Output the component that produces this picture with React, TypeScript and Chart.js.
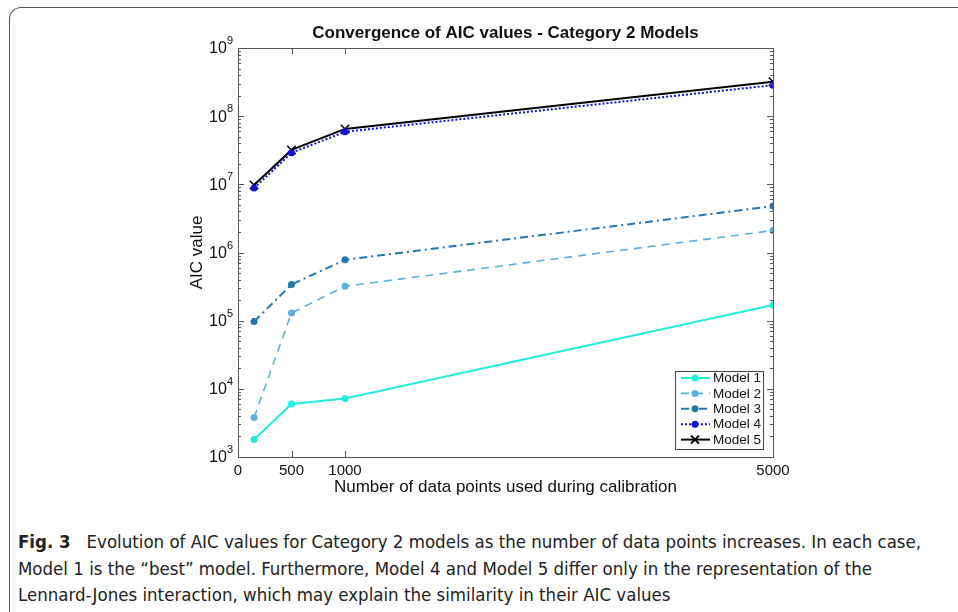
import React, { useEffect, useRef } from "react";
import { Chart, registerables } from "chart.js";

Chart.register(...registerables);

const chartTitle = "Convergence of AIC values - Category 2 Models";
const xTitle = "Number of data points used during calibration";
const yTitle = "AIC value";
const xValues = [150, 500, 1000, 5000];
const xTicks = [0, 500, 1000, 5000];
const yExponents = [3, 4, 5, 6, 7, 8, 9];
const seriesNames = ["Model 1", "Model 2", "Model 3", "Model 4", "Model 5"];
const model1 = [1.8e3, 6.0e3, 7.2e3, 1.7e5];
const model2 = [3.8e3, 1.3e5, 3.2e5, 2.1e6];
const model3 = [9.7e4, 3.4e5, 7.8e5, 4.8e6];
const model4 = [8.8e6, 2.9e7, 5.9e7, 2.85e8];
const model5 = [9.8e6, 3.2e7, 6.5e7, 3.2e8];

const styles = [
  { color: "#22eedd", dash: [] as number[], width: 2, point: "circle", radius: 3.5 },
  { color: "#5ab2dc", dash: [8, 6], width: 1.6, point: "circle", radius: 3.5 },
  { color: "#2278b2", dash: [8, 4, 2, 4], width: 2, point: "circle", radius: 3.5 },
  { color: "#1010e0", dash: [2, 2], width: 2, point: "circle", radius: 3.5 },
  { color: "#000000", dash: [] as number[], width: 2, point: "crossRot", radius: 6 },
];
const seriesData = [model1, model2, model3, model4, model5];

const W = 958;
const H = 510;
const AREA = { left: 238, right: 773, top: 48, bottom: 457 };
const FONT = "'Liberation Sans', Arial, sans-serif";

const axisPlugin = {
  id: "matlabAxes",
  afterDatasetsDraw(chart: any) {
    const ctx = chart.ctx as CanvasRenderingContext2D;
    const a = chart.chartArea;
    const ys = chart.scales.y;
    const xs = chart.scales.x;
    ctx.save();
    ctx.strokeStyle = "#555";
    ctx.lineWidth = 1;
    ctx.strokeRect(Math.round(a.left) + 0.5, Math.round(a.top) + 0.5, Math.round(a.right - a.left), Math.round(a.bottom - a.top));
    ctx.beginPath();
    for (const e of yExponents) {
      const y = Math.round(ys.getPixelForValue(Math.pow(10, e))) + 0.5;
      ctx.moveTo(a.left, y); ctx.lineTo(a.left + 6, y);
      ctx.moveTo(a.right, y); ctx.lineTo(a.right - 6, y);
      if (e < 9) {
        for (let m = 2; m <= 9; m++) {
          const ym = Math.round(ys.getPixelForValue(m * Math.pow(10, e))) + 0.5;
          ctx.moveTo(a.left, ym); ctx.lineTo(a.left + 3, ym);
          ctx.moveTo(a.right, ym); ctx.lineTo(a.right - 3, ym);
        }
      }
    }
    for (const t of xTicks) {
      const x = Math.round(xs.getPixelForValue(t)) + 0.5;
      ctx.moveTo(x, a.bottom); ctx.lineTo(x, a.bottom - 6);
      ctx.moveTo(x, a.top); ctx.lineTo(x, a.top + 6);
    }
    ctx.stroke();

    // title
    ctx.fillStyle = "#111";
    ctx.font = `bold 17px ${FONT}`;
    ctx.textAlign = "center";
    ctx.textBaseline = "middle";
    ctx.fillText(chartTitle, (a.left + a.right) / 2, 33);

    // y tick labels 10^e
    for (const e of yExponents) {
      const y = ys.getPixelForValue(Math.pow(10, e));
      ctx.font = `11px ${FONT}`;
      const ew = ctx.measureText(String(e)).width;
      const xr = a.left - 5;
      ctx.textAlign = "left";
      ctx.fillText(String(e), xr - ew, y - 7);
      ctx.font = `16px ${FONT}`;
      ctx.textAlign = "right";
      ctx.fillText("10", xr - ew, y + 1);
    }

    // legend
    const lx = 675, ly = 371, lw = 88, lh = 78;
    ctx.fillStyle = "#fff";
    ctx.fillRect(lx, ly, lw, lh);
    ctx.strokeStyle = "#444";
    ctx.lineWidth = 1;
    ctx.strokeRect(lx + 0.5, ly + 0.5, lw, lh);
    ctx.font = `13.5px ${FONT}`;
    ctx.textAlign = "left";
    ctx.textBaseline = "middle";
    seriesNames.forEach((name, i) => {
      const s = styles[i];
      const yy = ly + 7 + i * 15.4;
      ctx.save();
      ctx.strokeStyle = s.color;
      ctx.lineWidth = s.width;
      ctx.setLineDash(s.dash);
      ctx.beginPath();
      ctx.moveTo(lx + 6, yy);
      ctx.lineTo(lx + 35, yy);
      ctx.stroke();
      ctx.setLineDash([]);
      if (s.point === "circle") {
        ctx.fillStyle = s.color;
        ctx.beginPath();
        ctx.arc(lx + 20, yy, 3.5, 0, Math.PI * 2);
        ctx.fill();
      } else {
        ctx.beginPath();
        ctx.moveTo(lx + 16, yy - 4); ctx.lineTo(lx + 24, yy + 4);
        ctx.moveTo(lx + 16, yy + 4); ctx.lineTo(lx + 24, yy - 4);
        ctx.stroke();
      }
      ctx.restore();
      ctx.fillStyle = "#111";
      ctx.fillText(name, lx + 38, yy + 0.5);
    });
    ctx.restore();
  },
};

export default function App() {
  const ref = useRef<HTMLCanvasElement | null>(null);
  useEffect(() => {
    if (!ref.current) return;
    const chart = new Chart(ref.current, {
      type: "line",
      data: {
        datasets: seriesNames.map((name, i) => ({
          label: name,
          data: xValues.map((x, j) => ({ x, y: seriesData[i][j] })),
          borderColor: styles[i].color,
          backgroundColor: styles[i].color,
          borderWidth: styles[i].width,
          borderDash: styles[i].dash,
          pointStyle: styles[i].point as any,
          pointRadius: styles[i].radius,
          pointBorderWidth: styles[i].point === "crossRot" ? 1.5 : 0,
          pointBorderColor: styles[i].color,
          fill: false,
          tension: 0,
        })),
      },
      options: {
        animation: false,
        responsive: false,
        maintainAspectRatio: false,
        layout: { padding: { left: 0, top: AREA.top, right: W - AREA.right, bottom: 0 } },
        plugins: {
          legend: { display: false },
          tooltip: { enabled: false },
          title: { display: false },
        },
        scales: {
          x: {
            type: "linear",
            min: 0,
            max: 5000,
            afterBuildTicks: (s: any) => { s.ticks = xTicks.map((v) => ({ value: v })); },
            afterFit: (s: any) => { s.height = H - AREA.bottom; },
            grid: { display: false, drawTicks: false, tickLength: 0 },
            border: { display: false },
            ticks: {
              color: "#111",
              padding: 5,
              maxRotation: 0,
              autoSkip: false,
              font: { family: FONT, size: 15 },
              callback: (v: any) => String(v),
            },
            title: {
              display: true,
              text: xTitle,
              color: "#111",
              font: { family: FONT, size: 17, lineHeight: 1.2 },
              padding: { top: 0, bottom: 12 },
            },
          },
          y: {
            type: "logarithmic",
            min: 1e3,
            max: 1e9,
            afterFit: (s: any) => { s.width = AREA.left; },
            grid: { display: false, drawTicks: false },
            border: { display: false },
            ticks: { display: false },
            title: {
              display: true,
              text: yTitle,
              color: "#111",
              font: { family: FONT, size: 17, lineHeight: 1.2 },
              padding: { top: 187, bottom: 0 },
            },
          },
        },
      },
      plugins: [axisPlugin],
    } as any);
    return () => chart.destroy();
  }, []);

  return (
    <div style={{ position: "fixed", left: 0, top: 0, width: W, height: 612, background: "#fff", overflow: "hidden" }}>
      <div
        style={{
          position: "absolute",
          left: 9,
          top: 7,
          width: 1000,
          height: 700,
          borderLeft: "1.5px solid #555",
          borderTop: "1.5px solid #555",
          borderTopLeftRadius: 12,
        }}
      />
      <canvas ref={ref} width={W} height={H} style={{ position: "absolute", left: 0, top: 0, width: W, height: H }} />
      <div
        style={{
          position: "absolute",
          left: 18,
          top: 529,
          fontFamily: "'Liberation Sans Narrow', 'DejaVu Sans Condensed', 'Open Sans', sans-serif",
          fontSize: 18.5,
          lineHeight: "26.5px",
          color: "#222",
          whiteSpace: "nowrap",
        }}
      >
        <div>
          <b>Fig. 3</b>&nbsp;&nbsp; Evolution of AIC values for Category 2 models as the number of data points increases. In each case,
        </div>
        <div>Model 1 is the “best” model. Furthermore, Model 4 and Model 5 differ only in the representation of the</div>
        <div>Lennard-Jones interaction, which may explain the similarity in their AIC values</div>
      </div>
    </div>
  );
}
